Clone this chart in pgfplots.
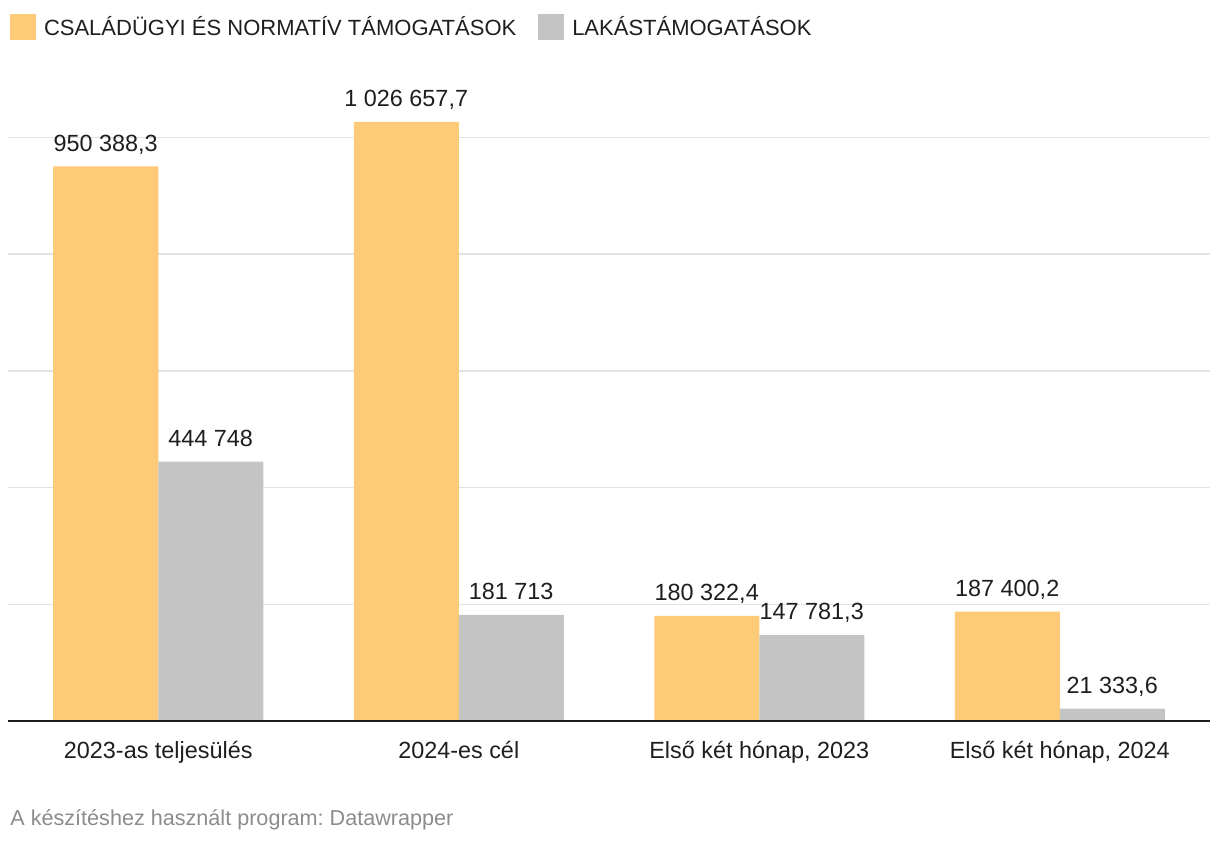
\documentclass[border=0pt]{standalone}
\usepackage{fontspec}
\setmainfont{Liberation Sans}
\usepackage{pgfplots}
\usepackage{pgfplotstable}
\pgfplotsset{compat=1.18}
\definecolor{famorange}{RGB}{253,202,120}
\definecolor{lakgray}{RGB}{196,196,196}
\definecolor{gridgray}{RGB}{226,226,226}
\definecolor{txt}{RGB}{30,30,30}
\definecolor{foot}{RGB}{140,140,140}
\frenchspacing

% values in thousand HUF; labels as printed
\pgfplotstableread[col sep=semicolon, row sep=\\]{
x;fam;famlab;lak;laklab\\
0;950388.3;950 388,3;444748;444 748\\
1;1026657.7;1 026 657,7;181713;181 713\\
2;180322.4;180 322,4;147781.3;147 781,3\\
3;187400.2;187 400,2;21333.6;21 333,6\\
}\data

\begin{document}
\begin{tikzpicture}
\path[use as bounding box] (-4pt,-61.5pt) rectangle (606pt,360.5pt);
\begin{axis}[
  at={(0,0)}, anchor=south west,
  scale only axis,
  width=601pt, height=320.9pt,
  ybar=0pt, bar width=52.5pt,
  xmin=-0.5, xmax=3.5,
  ymin=0, ymax=1100000,
  xtick={0,1,2,3},
  xticklabels={2023-as teljesülés, 2024-es cél, Első két hónap{,} 2023, Első két hónap{,} 2024},
  xticklabel style={anchor=base, yshift=-19pt, font=\fontsize{11.7}{14}\selectfont, text=txt},
  ytick={200000,400000,600000,800000,1000000},
  yticklabels={},
  scaled y ticks=false,
  ymajorgrids,
  grid style={gridgray, line width=0.75pt},
  axis line style={draw=none},
  major tick length=0pt,
  clip=false,
  point meta=explicit symbolic,
  nodes near coords,
  every node near coord/.append style={anchor=base, yshift=7.5pt, font=\fontsize{11.7}{14}\selectfont, text=txt},
  legend columns=2,
  legend style={at={(axis description cs:0,1)}, anchor=north west, xshift=1pt, yshift=32.6pt,
    draw=none, fill=none, inner sep=0pt, outer sep=0pt,
    nodes={inner sep=0pt, text=txt},
    font=\fontsize{11}{13}\selectfont,
    /tikz/every odd column/.style={column sep=4pt},
    /tikz/every even column/.style={column sep=11pt}},
  legend cell align=left,
  every axis plot post/.append style={legend image code/.code={\fill[##1] (0pt,-6.5pt) rectangle (13pt,6.5pt);}},
]
\addplot[fill=famorange, draw=none] table[x=x, y=fam, meta=famlab] {\data};
\addlegendentry{CSALÁDÜGYI ÉS NORMATÍV TÁMOGATÁSOK}
\addplot[fill=lakgray, draw=none] table[x=x, y=lak, meta=laklab] {\data};
\addlegendentry{LAKÁSTÁMOGATÁSOK}
\draw[txt, line width=1pt] (rel axis cs:0,0) -- (rel axis cs:1,0);
\end{axis}
\node[anchor=base west, inner sep=0pt, text=foot, font=\fontsize{10.8}{13}\selectfont] at (1pt,-52.5pt) {A készítéshez használt program: Datawrapper};
\end{tikzpicture}
\end{document}
